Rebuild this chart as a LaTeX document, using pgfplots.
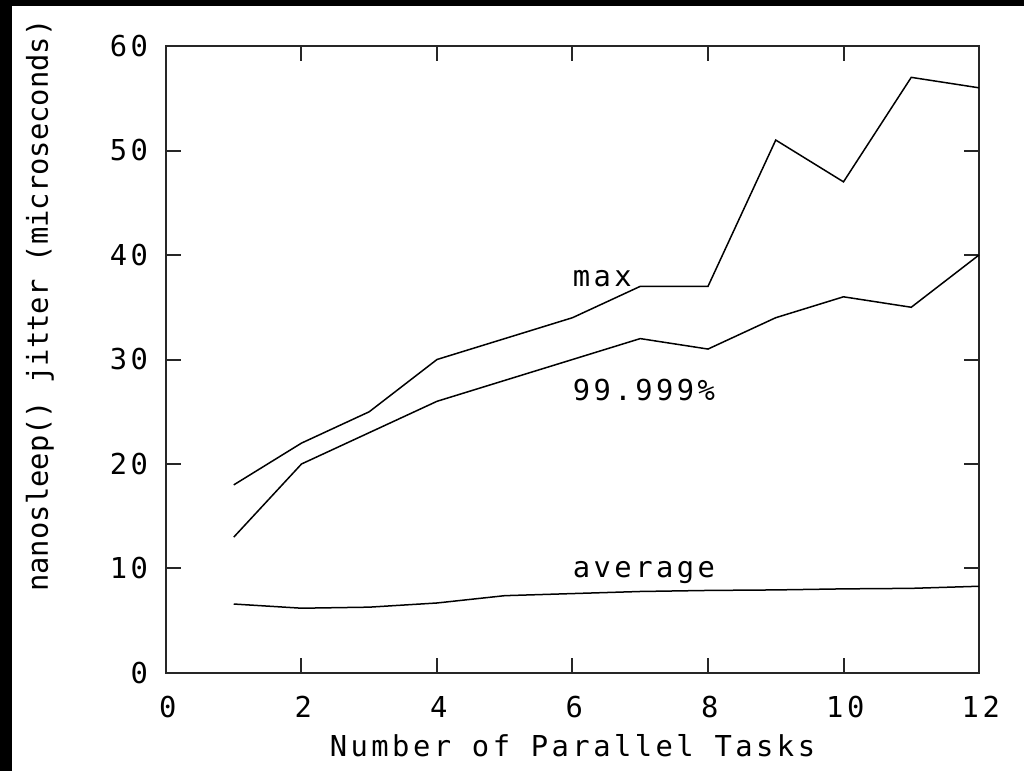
\documentclass[border=0pt]{standalone}
\usepackage{fontspec}
\setmainfont{DejaVu Sans Mono}
\newfontfamily\gpwide[LetterSpace=12]{DejaVu Sans Mono}
\usepackage{pgfplots}
\pgfplotsset{compat=1.18}
\newcommand\gpfont{\fontsize{14.4pt}{17pt}\selectfont}
\newcommand\gph{\gpwide\fontsize{14.4pt}{17pt}\selectfont}
\begin{document}
\gpfont
\begin{tikzpicture}
\begin{axis}[
  scale only axis, width=406.5pt, height=313.5pt,
  xmin=0, xmax=12, ymin=0, ymax=60,
  xtick={0,2,...,12}, ytick={0,10,...,60},
  tick align=inside, major tick length=7.5pt,
  axis line style={line width=1pt, black!85},
  every tick/.style={line width=1pt, black!85},
  tick label style={font=\gph, text=black},
  /pgf/number format/assume math mode=true,
  xticklabel style={anchor=north, inner sep=0pt, yshift=-11.5pt, xshift=0.9pt},
  yticklabel style={anchor=east, inner sep=0pt, xshift=-8.8pt},
  xlabel={Number of Parallel Tasks},
  xlabel style={at={(axis description cs:0.5,0)}, anchor=north, inner sep=0pt, yshift=-30.5pt, font=\gph},
  clip=false,
]
\addplot[black, line width=0.75pt] coordinates {(1,18)(2,22)(3,25)(4,30)(5,32)(6,34)(7,37)(8,37)(9,51)(10,47)(11,57)(12,56)};
\addplot[black, line width=0.75pt] coordinates {(1,13)(2,20)(3,23)(4,26)(5,28)(6,30)(7,32)(8,31)(9,34)(10,36)(11,35)(12,40)};
\addplot[black, line width=0.75pt] coordinates {(1,6.6)(2,6.2)(3,6.3)(4,6.7)(5,7.4)(6,7.6)(7,7.8)(8,7.9)(9,7.95)(10,8.05)(11,8.1)(12,8.3)};
\node[anchor=base west, inner sep=0pt, font=\gph] at (axis cs:6,37) {max};
\node[anchor=base west, inner sep=0pt, font=\gph] at (axis cs:6,26.1) {99.999\%};
\node[anchor=base west, inner sep=0pt, font=\gph] at (axis cs:6,9.1) {average};
\node[rotate=90, anchor=base, inner sep=0pt, font=\gpfont] at ([xshift=-59pt]rel axis cs:0,0.586) {nanosleep() jitter (microseconds)};
\end{axis}
\pgfresetboundingbox
\useasboundingbox (-83pt,-49pt) rectangle (429pt,336.5pt);
\fill[black] (-83pt,-49pt) rectangle (-77pt,336.5pt);
\fill[black] (-83pt,333.5pt) rectangle (429pt,336.5pt);
\end{tikzpicture}
\end{document}
